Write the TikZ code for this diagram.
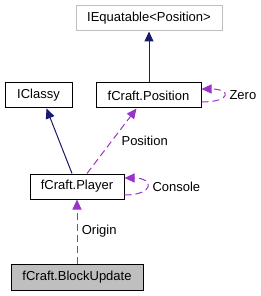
\documentclass[tikz,border=0pt]{standalone}
\usepackage{fontspec}
\setmainfont{Liberation Sans}
\usepackage{xcolor}
\usepackage{tikz}
\usetikzlibrary{arrows.meta,positioning,calc}
\definecolor{inheritblue}{HTML}{191970}
\definecolor{usagepurple}{HTML}{9A32CD}

\begin{document}
\begin{tikzpicture}[
  x=1pt,y=-1pt,>={Triangle[length=10pt,width=9pt]},
  klass/.style={draw,line width=1pt,inner sep=0pt,minimum height=25pt,
    fill=white,align=center},
  external/.style={klass,draw=black!25},
  current/.style={klass,fill=black!25},
  inherit/.style={->,line width=1pt,draw=inheritblue},
  usage/.style={->,line width=1pt,draw=usagepurple,
    dash pattern=on 7pt off 4pt},
  every node/.style={font=\fontsize{13}{15}\selectfont}
]
  \useasboundingbox (0,0) rectangle (261,296);

  \node[external,minimum width=146pt] (equatable) at (149,18.5)
    {IEquatable<Position>};
  \node[klass,minimum width=67pt] (classy) at (38.5,95.5) {IClassy};
  \node[klass,minimum width=105pt] (position) at (148.5,95.5)
    {fCraft.Position};
  \node[klass,minimum width=94pt] (player) at (77,186.5) {fCraft.Player};
  \node[current,minimum width=132pt,minimum height=26pt] (blockupdate)
    at (77,277) {fCraft.BlockUpdate};

  \draw[inherit] (position.north -| equatable) -- (equatable);
  \draw[inherit] ([xshift=-5pt]player.north) -- ([xshift=8pt]classy.south);
  \draw[usage] ([xshift=10pt]player.north) -- ([xshift=-12pt]position.south)
    node[pos=0.5,anchor=west,xshift=6pt] (poslabel) {Position};
  \draw[usage] ([yshift=-6.5pt]position.east) .. controls +(30,0) and +(30,0)
    .. ([yshift=6.5pt]position.east);
  \node[anchor=west] (zerolabel) at (226,95.5) {Zero};
  \draw[usage] ([yshift=-8.5pt]player.east) .. controls +(30,0) and +(30,0)
    .. ([yshift=8.5pt]player.east);
  \node[anchor=west] (consolelabel) at (149,186.5) {Console};
  \draw[usage] (blockupdate) -- (player)
    node[midway,anchor=west,xshift=1pt] (originlabel) {Origin};
\end{tikzpicture}
\end{document}
